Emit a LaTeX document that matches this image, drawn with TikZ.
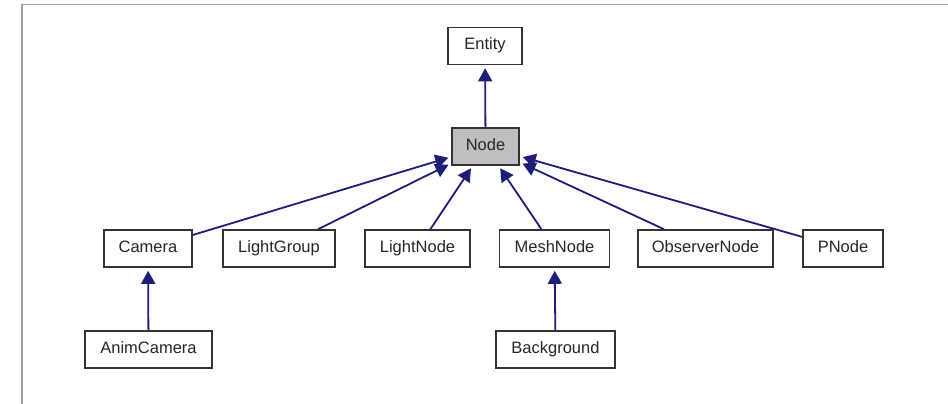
\documentclass[tikz,border=0pt]{standalone}
\usepackage{fontspec}
\setmainfont{Liberation Sans}
\usetikzlibrary{arrows.meta}
\definecolor{edgeblue}{HTML}{1E1E78}
\definecolor{nodegray}{HTML}{BFBFBF}
\definecolor{framegray}{HTML}{A0A0A0}
\tikzset{
  cls/.style={draw=black!80, line width=1.6pt, fill=white, inner sep=0pt,
    minimum height=37pt, text height=11.5pt, text depth=3.5pt,
    font=\fontsize{16.5}{19}\selectfont, text=black!85},
  edge/.style={draw=edgeblue, line width=1.8pt,
    -{Triangle[length=13pt,width=14pt]}, shorten >=3pt}
}
\begin{document}
\begin{tikzpicture}[x=1pt,y=-1pt]
\useasboundingbox (0,0) rectangle (948,404);
\draw[framegray, line width=1.5pt] (948,4.5) -- (22,4.5) -- (22,404);
\node[cls, minimum width=74pt] (entity) at (485,46) {Entity};
\node[cls, minimum width=67pt, fill=nodegray] (node) at (485.5,146.5) {Node};
\node[cls, minimum width=88pt] (camera) at (148,248.5) {Camera};
\node[cls, minimum width=112pt] (lightgroup) at (279,248.5) {LightGroup};
\node[cls, minimum width=105pt] (lightnode) at (417.5,248.5) {LightNode};
\node[cls, minimum width=110pt] (meshnode) at (554.5,248.5) {MeshNode};
\node[cls, minimum width=135pt] (observer) at (705.5,248.5) {ObserverNode};
\node[cls, minimum width=80pt] (pnode) at (843,248.5) {PNode};
\node[cls, minimum width=127pt] (animcam) at (148.5,349.5) {AnimCamera};
\node[cls, minimum width=119pt] (background) at (555.5,349.5) {Background};
\draw[edge] (node) -- (entity);
\draw[edge] (camera) -- (node);
\draw[edge] (lightgroup) -- (node);
\draw[edge] (lightnode) -- (node);
\draw[edge] (meshnode) -- (node);
\draw[edge] (observer) -- (node);
\draw[edge] (pnode) -- (node);
\draw[edge] (animcam) -- (camera);
\draw[edge] (background) -- (meshnode);
\end{tikzpicture}
\end{document}
